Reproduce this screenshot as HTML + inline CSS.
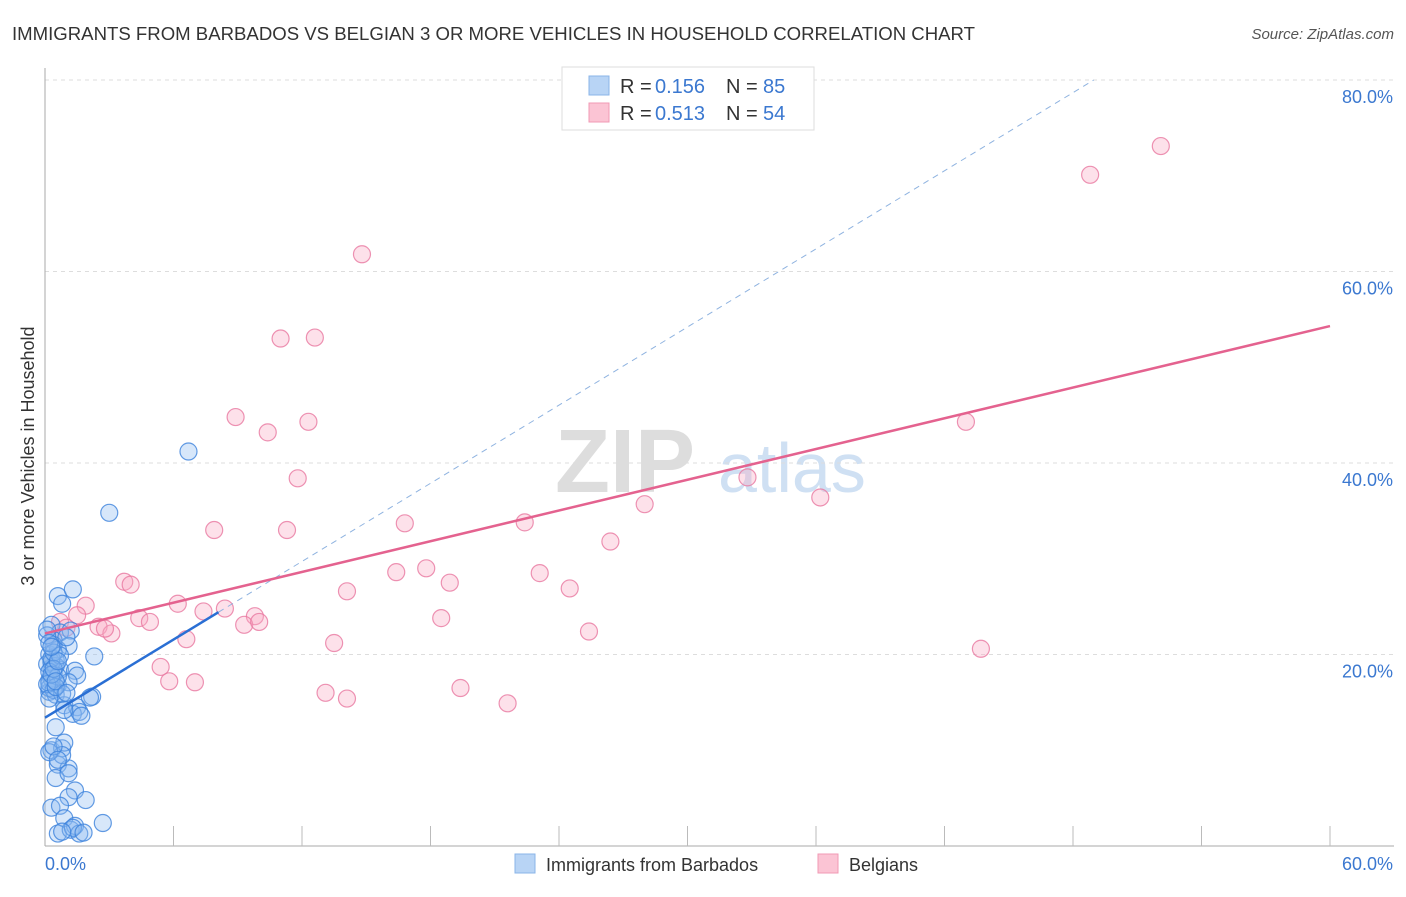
<!DOCTYPE html>
<html><head><meta charset="utf-8">
<style>
body{margin:0;background:#fff;font-family:"Liberation Sans",sans-serif;}
svg text{font-family:"Liberation Sans",sans-serif;}
</style></head>
<body>
<svg id="chart" width="1406" height="892" xmlns="http://www.w3.org/2000/svg">
<text x="12" y="40" font-size="18" fill="#333" textLength="963" lengthAdjust="spacingAndGlyphs">IMMIGRANTS FROM BARBADOS VS BELGIAN 3 OR MORE VEHICLES IN HOUSEHOLD CORRELATION CHART</text>
<text x="1394" y="39" font-size="15" fill="#555" text-anchor="end" font-style="italic">Source: ZipAtlas.com</text>
<text transform="translate(34,456) rotate(-90)" font-size="18" fill="#333" text-anchor="middle">3 or more Vehicles in Household</text>
<g>
<text x="555" y="492" font-size="90" fill="#ddd" font-family="Liberation Serif" font-weight="bold">ZIP</text>
<text x="718" y="492" font-size="70" fill="#cfe0f3">atlas</text>
</g>
<g id="grid"></g>
<g id="axes"></g>
<g id="marks"></g>
<g>
<rect x="562" y="67" width="252" height="63" fill="#fff" stroke="#ddd"/>
<rect x="589" y="76" width="20" height="19" fill="#b8d4f5" stroke="#8ab4e8"/>
<rect x="589" y="103" width="20" height="19" fill="#fbc4d4" stroke="#f09ab4"/>
<text x="620" y="93" font-size="20" fill="#333">R =</text>
<text x="655" y="93" font-size="20" fill="#3b78d0">0.156</text>
<text x="726" y="93" font-size="20" fill="#333">N =</text>
<text x="763" y="93" font-size="20" fill="#3b78d0">85</text>
<text x="620" y="120" font-size="20" fill="#333">R =</text>
<text x="655" y="120" font-size="20" fill="#3b78d0">0.513</text>
<text x="726" y="120" font-size="20" fill="#333">N =</text>
<text x="763" y="120" font-size="20" fill="#3b78d0">54</text>
</g>
<g>
<rect x="515" y="854" width="20" height="19" fill="#b8d4f5" stroke="#8ab4e8"/>
<text x="546" y="871" font-size="18" fill="#333">Immigrants from Barbados</text>
<rect x="818" y="854" width="20" height="19" fill="#fbc4d4" stroke="#f09ab4"/>
<text x="849" y="871" font-size="18" fill="#333">Belgians</text>
</g>
</svg>
<script>
const yTicks=[20,40,60,80];
const yTickLabels=["20.0%","40.0%","60.0%","80.0%"];
const xTickLabels=["0.0%","60.0%"];
const blueX=[6.7,3.0,0.6,1.3,0.8,0.3,0.7,1.2,0.4,1.1,2.3,0.5,0.3,0.7,1.4,1.5,0.2,0.6,1.1,0.2,0.5,2.2,0.9,1.5,1.3,1.6,0.5,0.3,0.8,0.9,0.6,1.1,0.5,1.1,1.4,1.9,1.1,0.3,0.7,0.9,2.7,0.6,1.2,1.4,1.6,1.3,0.8,1.8,0.2,0.1,0.4,0.3,0.2,0.6,0.4,0.1,0.3,0.5,0.2,0.4,0.8,1.0,0.3,0.2,0.6,0.1,0.4,0.7,0.2,0.5,0.3,0.1,2.1,1.7,0.9,0.4,0.6,0.2,0.3,0.5,1.0,0.8,0.2,0.4,0.6];
const blueY=[41.2,34.8,26.1,26.8,25.3,23.1,22.3,22.5,21.5,20.9,19.8,19.4,18.6,18.4,18.3,17.8,17.3,16.8,17.1,16.1,15.8,15.6,14.7,14.5,13.8,14.0,12.4,10.0,10.2,10.8,8.5,8.1,7.1,7.6,5.8,4.8,5.1,4.0,4.2,2.9,2.4,1.3,1.7,2.1,1.3,1.9,1.5,1.4,20.0,19.0,18.0,17.5,16.5,20.5,21.0,22.0,19.2,18.8,17.0,16.3,15.9,21.8,19.6,18.2,17.7,16.9,20.2,19.9,15.4,16.6,17.9,22.6,15.5,13.6,14.2,18.5,19.3,21.2,20.8,17.2,16.0,9.5,9.8,10.4,9.0];
const pinkX=[14.8,11.0,12.6,48.8,52.1,43.0,43.7,8.9,10.4,12.3,11.8,7.9,11.3,16.8,22.4,28.0,32.8,36.2,26.4,16.4,17.8,18.9,23.1,24.5,14.1,3.7,4.0,6.2,8.4,9.8,1.9,1.5,4.4,4.9,2.5,3.1,2.8,7.4,9.3,10.0,18.5,25.4,6.6,13.5,5.4,5.8,7.0,19.4,13.1,14.1,21.6,0.7,0.4,1.0];
const pinkY=[61.8,53.0,53.1,70.1,73.1,44.3,20.6,44.8,43.2,44.3,38.4,33.0,33.0,33.7,33.8,35.7,38.5,36.4,31.8,28.6,29.0,27.5,28.5,26.9,26.6,27.6,27.3,25.3,24.8,24.0,25.1,24.1,23.8,23.4,22.9,22.2,22.7,24.5,23.1,23.4,23.8,22.4,21.6,21.2,18.7,17.2,17.1,16.5,16.0,15.4,14.9,23.4,21.5,22.8];
const blueTrend=[13.4,1.36,8.1];
const pinkTrend=[22.2,0.535,60];
const X0=45,X1=1330,Y0=846,Y80=80;
const xs=v=>X0+(X1-X0)*v/60;
const ys=v=>Y0-(Y0-Y80)*v/80;
const NS="http://www.w3.org/2000/svg";
function mk(t,a,p){const e=document.createElementNS(NS,t);for(const k in a)e.setAttribute(k,a[k]);p.appendChild(e);return e;}
const grid=document.getElementById('grid'),axes=document.getElementById('axes'),marks=document.getElementById('marks');
yTicks.forEach((v,i)=>{
 const l=mk('line',{x1:X0,x2:1394,y1:ys(v),y2:ys(v),stroke:'#ddd','stroke-dasharray':'4,4'},grid);
 
 
 const t=mk('text',{x:1393,y:ys(v)+23,'font-size':18,fill:'#3b78d0','text-anchor':'end'},axes);
 t.textContent=yTickLabels[i];
 
 
});
const ya=mk('line',{x1:X0,x2:X0,y1:68,y2:Y0,stroke:'#aaa'},axes);


const xa=mk('line',{x1:X0,x2:X1+64,y1:Y0,y2:Y0,stroke:'#aaa'},axes);


for(let i=1;i<=10;i++){
 const tk=mk('line',{x1:xs(i*6),x2:xs(i*6),y1:Y0-20,y2:Y0,stroke:'#bbb'},axes);
 
 
}
const xl0=mk('text',{x:45,y:870,'font-size':18,fill:'#3b78d0'},axes);xl0.textContent=xTickLabels[0];


const xl1=mk('text',{x:1393,y:870,'font-size':18,fill:'#3b78d0','text-anchor':'end'},axes);xl1.textContent=xTickLabels[1];


pinkX.forEach((v,i)=>{
 const c=mk('circle',{cx:xs(v),cy:ys(pinkY[i]),r:8.5,fill:'rgba(248,170,195,0.35)',stroke:'rgba(232,120,160,0.8)','stroke-width':1.2},marks);
 
 
});
blueX.forEach((v,i)=>{
 const c=mk('circle',{cx:xs(v),cy:ys(blueY[i]),r:8.5,fill:'rgba(140,185,240,0.35)',stroke:'rgba(60,130,220,0.8)','stroke-width':1.2},marks);
 
 
});
const bEnd=(80-blueTrend[0])/blueTrend[1];
const bd=mk('line',{x1:xs(blueTrend[2]),y1:ys(blueTrend[0]+blueTrend[1]*blueTrend[2]),x2:xs(bEnd),y2:ys(80),stroke:'#8fb3e0','stroke-width':1,'stroke-dasharray':'6,5'},marks);


const bl=mk('line',{x1:xs(0),y1:ys(blueTrend[0]),x2:xs(blueTrend[2]),y2:ys(blueTrend[0]+blueTrend[1]*blueTrend[2]),stroke:'#2a6fd4','stroke-width':2.5},marks);


const pl=mk('line',{x1:xs(0),y1:ys(pinkTrend[0]),x2:xs(pinkTrend[2]),y2:ys(pinkTrend[0]+pinkTrend[1]*pinkTrend[2]),stroke:'#e4628f','stroke-width':2.5},marks);


</script>
</body></html>
